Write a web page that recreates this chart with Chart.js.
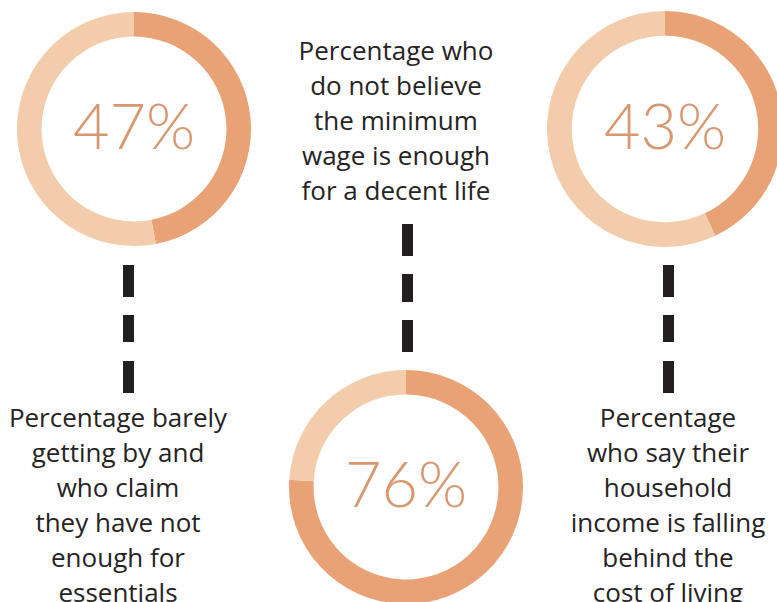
<!DOCTYPE html>
<html>
<head>
<meta charset="utf-8">
<script src="https://cdn.jsdelivr.net/npm/chart.js@4"></script>
<style>
  html, body { margin: 0; padding: 0; background: #fff; }
  body { width: 777px; height: 602px; position: relative; overflow: hidden; }
  canvas.donut { position: absolute; }
  .caption {
    position: absolute;
    width: 260px;
    text-align: center;
    font-family: "Open Sans", sans-serif;
    font-size: 26px;
    line-height: 35px;
    color: #262324;
    white-space: nowrap;
  }
  .dash { position: absolute; width: 11px; background: #231f20; }
</style>
</head>
<body>
<canvas class="donut" id="donut-0"></canvas>
<canvas class="donut" id="donut-1"></canvas>
<canvas class="donut" id="donut-2"></canvas>

<script>
// values shown in each ring (percent)
const shares = [47, 76, 43];
const centerLabels = ["47%", "76%", "43%"];
const captions = [
    ["Percentage barely", "getting by and", "who claim", "they have not", "enough for", "essentials"],
    ["Percentage who", "do not believe", "the minimum", "wage is enough", "for a decent life"],
    ["Percentage", "who say their", "household", "income is falling", "behind the", "cost of living"]
];

// layout of the rings, captions and connector dashes
const rings = [
    { cx: 134, cy: 129, r: 117 },
    { cx: 406, cy: 487, r: 117 },
    { cx: 665, cy: 129, r: 118 }
];
const captionPos = [
    { cx: 118, baseline: 427 },
    { cx: 396, baseline: 60 },
    { cx: 668, baseline: 427 }
];
const dashes = [
    { x: 123, ys: [[265, 297], [315, 342], [361, 393]] },
    { x: 402, ys: [[224, 256], [274, 302], [320, 352]] },
    { x: 663, ys: [[265, 297], [315, 342], [361, 393]] }
];

const DARK = "#E9A275";
const LIGHT = "#F3CDAB";

// draws the big percentage in the hole
const centerText = {
    id: "centerText",
    afterDraw(chart) {
        const meta = chart.getDatasetMeta(0);
        const arc = meta.data[0];
        const ctx = chart.ctx;
        ctx.save();
        ctx.font = "300 63px Lato, sans-serif";
        ctx.fillStyle = "#D8976E";
        ctx.textAlign = "center";
        ctx.textBaseline = "alphabetic";
        ctx.fillText(chart.options.plugins.centerText.label, arc.x, arc.y + 20);
        ctx.restore();
    }
};

function makeDonut(i) {
    const ring = rings[i];
    const size = ring.r * 2 + 4;
    const canvas = document.getElementById("donut-" + i);
    canvas.style.left = (ring.cx - size / 2) + "px";
    canvas.style.top = (ring.cy - size / 2) + "px";
    canvas.style.width = size + "px";
    canvas.style.height = size + "px";
    canvas.width = size;
    canvas.height = size;

    new Chart(canvas.getContext("2d"), {
        type: "doughnut",
        data: {
            labels: ["share", "rest"],
            datasets: [{
                data: [shares[i], 100 - shares[i]],
                backgroundColor: [DARK, LIGHT],
                borderWidth: 0,
                hoverOffset: 0
            }]
        },
        options: {
            responsive: false,
            animation: false,
            radius: ring.r,
            cutout: "79%",
            layout: { padding: 0 },
            events: [],
            plugins: {
                legend: { display: false },
                tooltip: { enabled: false },
                centerText: { label: centerLabels[i] }
            }
        },
        plugins: [centerText]
    });
}

function makeCaption(i) {
    const div = document.createElement("div");
    div.className = "caption";
    div.innerHTML = captions[i].join("<br>");
    div.style.left = (captionPos[i].cx - 130) + "px";
    div.style.top = (captionPos[i].baseline - 27) + "px";
    document.body.appendChild(div);
}

function makeDashes(d) {
    d.ys.forEach(([y0, y1]) => {
        const el = document.createElement("div");
        el.className = "dash";
        el.style.left = d.x + "px";
        el.style.top = y0 + "px";
        el.style.height = (y1 - y0) + "px";
        document.body.appendChild(el);
    });
}

window.addEventListener("load", () => {
    for (let i = 0; i < shares.length; i++) {
        makeDonut(i);
        makeCaption(i);
    }
    dashes.forEach(makeDashes);
});
</script>
</body>
</html>
